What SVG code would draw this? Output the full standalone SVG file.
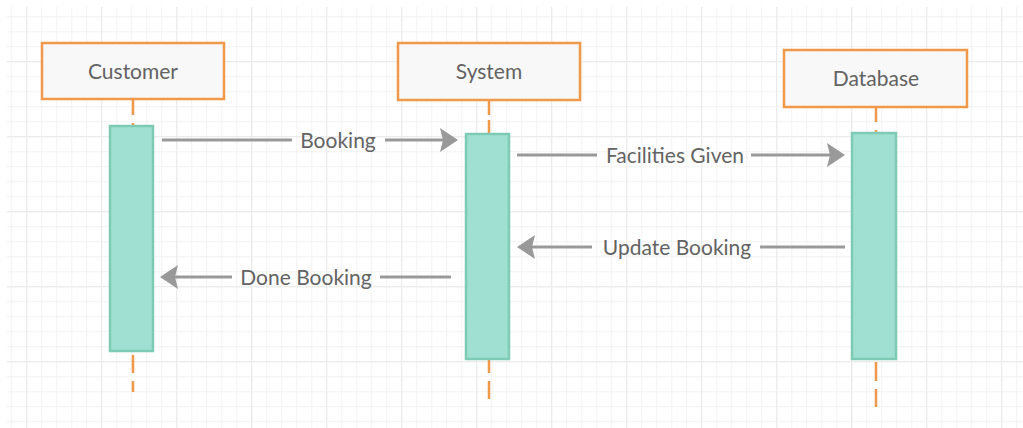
<svg xmlns="http://www.w3.org/2000/svg" width="1023" height="428" viewBox="0 0 1023 428">
  <defs>
    <pattern id="grid-minor" patternUnits="userSpaceOnUse" x="11.2" y="1.2" width="15" height="15">
      <path d="M0.5 0 V15 M0 0.5 H15" fill="none" stroke="#f2f2f2" stroke-width="1"/>
    </pattern>
    <pattern id="grid-major" patternUnits="userSpaceOnUse" x="26.2" y="61.2" width="75" height="75">
      <path d="M0.5 0 V75 M0 0.5 H75" fill="none" stroke="#eaeaea" stroke-width="1"/>
    </pattern>
    <marker id="arrow" markerUnits="userSpaceOnUse" viewBox="0 0 18 24" refX="10" refY="12" markerWidth="18" markerHeight="24" orient="auto">
      <path d="M0 0 L18 12 L0 24 L3 12 Z" fill="#999999"/>
    </marker>
    <style>
      .head rect { fill: #f8f8f8; stroke: #f0994b; stroke-width: 2.5; }
      .head text { font-family: Lato, "Open Sans", sans-serif; font-size: 21px; fill: #636363; text-anchor: middle; dominant-baseline: central; }
      .life { fill: none; stroke: #f0994b; stroke-width: 2.5; }
      .act { fill: #a0e0d2; stroke: #7ecab5; stroke-width: 2.5; }
      .msg { fill: none; stroke: #999999; stroke-width: 3; }
      .lbl { font-family: Lato, "Open Sans", sans-serif; font-size: 21px; fill: #636363; text-anchor: middle; dominant-baseline: central; }
    </style>
  </defs>

  <!-- canvas and grid -->
  <rect width="1023" height="428" fill="#ffffff"/>
  <rect x="7" y="7" width="1016" height="421" fill="url(#grid-minor)"/>
  <rect x="7" y="7" width="1016" height="421" fill="url(#grid-major)"/>

  <!-- Customer lifeline -->
  <g id="customer">
    <path class="life" d="M133 99 V115 M133 123 V126 M133 355 V373 M133 381 V392"/>
    <g class="head">
      <rect x="42" y="43" width="182" height="56"/>
      <text x="133" y="70">Customer</text>
    </g>
    <rect class="act" x="110" y="126" width="43" height="225"/>
  </g>

  <!-- System lifeline -->
  <g id="system">
    <path class="life" d="M489 100 V115 M489 120 V133 M489 360 V373 M489 381 V399"/>
    <g class="head">
      <rect x="398" y="43" width="182" height="57"/>
      <text x="489" y="70">System</text>
    </g>
    <rect class="act" x="466" y="134" width="43" height="225"/>
  </g>

  <!-- Database lifeline -->
  <g id="database">
    <path class="life" d="M876 107 V122 M876 130 V133 M876 362 V381 M876 389 V407"/>
    <g class="head">
      <rect x="784" y="50" width="183" height="57"/>
      <text x="876" y="77">Database</text>
    </g>
    <rect class="act" x="852" y="133" width="44" height="226"/>
  </g>

  <!-- messages -->
  <g id="connectors">
    <path class="msg" d="M162 140 H292 M385 140 H450" marker-end="url(#arrow)"/>
    <text class="lbl" x="338" y="139">Booking</text>

    <path class="msg" d="M517 155 H597 M751 155 H837" marker-end="url(#arrow)"/>
    <text class="lbl" x="675" y="154">Facilities Given</text>

    <path class="msg" d="M845 247 H760 M592 247 H525" marker-end="url(#arrow)"/>
    <text class="lbl" x="677" y="246">Update Booking</text>

    <path class="msg" d="M451 277 H380 M232 277 H168" marker-end="url(#arrow)"/>
    <text class="lbl" x="306" y="276">Done Booking</text>
  </g>
</svg>
